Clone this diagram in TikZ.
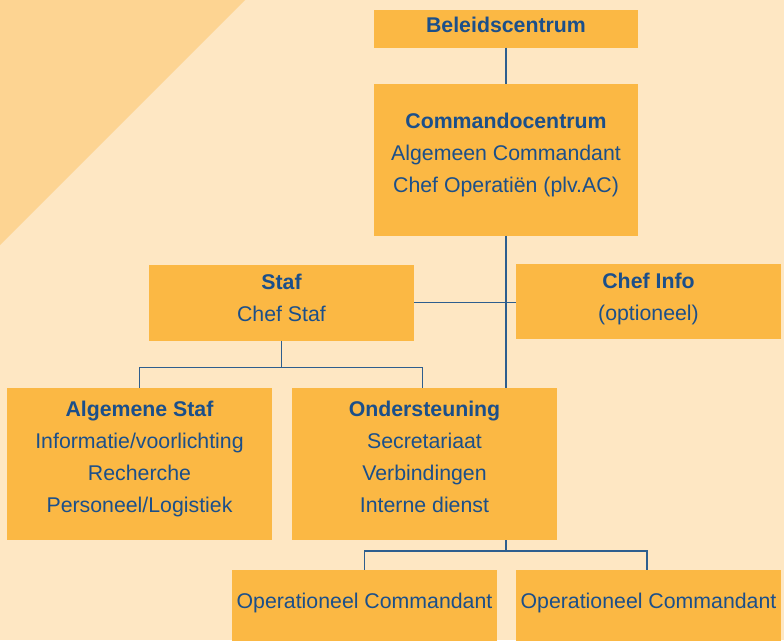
\documentclass[tikz,border=0pt]{standalone}
\usepackage{fontspec}
\setmainfont{Liberation Sans}
\usetikzlibrary{calc}

\definecolor{bgcream}{HTML}{FEE7C3}
\definecolor{bgcorner}{HTML}{FDD492}
\definecolor{boxorange}{HTML}{FBB844}
\definecolor{textblue}{HTML}{1B4F8A}
\definecolor{lineblue}{HTML}{2D5E8E}

\begin{document}
\begin{tikzpicture}[x=1pt,y=-1pt,font={\fontsize{21.3pt}{32pt}\selectfont},
	orgbox/.style={fill=boxorange,inner sep=0pt,minimum width=265pt},
	boxtext/.style={text=textblue,align=center,inner sep=0pt,yshift=5pt},
	orgline/.style={draw=lineblue,line width=1.1pt}]
	% achtergrond
	\fill[bgcream] (0,0) rectangle (784,640);
	\fill[bgcorner] (0,0) -- (245,0) -- (0,245) -- cycle;
	\useasboundingbox (0,0) rectangle (784,640);

	% top
	\node[orgbox,minimum width=264pt,minimum height=37.5pt,
		label={[boxtext,yshift=-1pt]center:\textbf{Beleidscentrum}}] (bc) at (506,28.75) {};
	\node[orgbox,minimum width=264pt,minimum height=151.5pt,
		label={[boxtext]center:{\textbf{Commandocentrum}\\Algemeen Commandant\\Chef Operatiën (plv.AC)}}] (cc) at (506,159.75) {};

	% staf en info
	\node[orgbox,minimum height=75.5pt,
		label={[boxtext]center:{\textbf{Staf}\\Chef Staf}}] (staf) at (281.5,302.75) {};
	\node[orgbox,minimum height=75pt,
		label={[boxtext,yshift=-2pt]center:{\textbf{Chef Info}\\(optioneel)}}] (info) at (648.5,301.5) {};

	% tweede laag
	\node[orgbox,minimum height=152pt,
		label={[boxtext]center:{\textbf{Algemene Staf}\\Informatie/voorlichting\\Recherche\\Personeel/Logistiek}}] (algstaf) at (139.5,464) {};
	\node[orgbox,minimum height=152pt,
		label={[boxtext,yshift=2pt]center:{\textbf{Ondersteuning}\\Secretariaat\\Verbindingen\\Interne dienst}}] (ond) at (424.5,464) {};

	% onderste laag
	\foreach \name/\xpos in {op1/364.5, op2/648.5} {
		\node[orgbox,minimum height=75pt,
			label={[boxtext]center:Operationeel Commandant}] (\name) at (\xpos,607.5) {};
	}

	% lijnen
	\coordinate (stafsplit) at ($(staf.south)+(0,26.5)$);
	\coordinate (opsplit) at (506,551);
	\draw[orgline] (bc.south) -- (cc.north);
	\draw[orgline] (cc.south) -- (cc.south |- ond.north);
	\draw[orgline] (staf.east) -- (staf.east -| info.west);
	\draw[orgline] (staf.south) -- (stafsplit);
	\draw[orgline] (algstaf.north) |- (stafsplit) -| ([xshift=-2pt]ond.north);
	\draw[orgline] (cc.south |- ond.south) -- (opsplit);
	\draw[orgline] (op1.north) |- (opsplit) -| ([xshift=-1.5pt]op2.north);
\end{tikzpicture}
\end{document}
